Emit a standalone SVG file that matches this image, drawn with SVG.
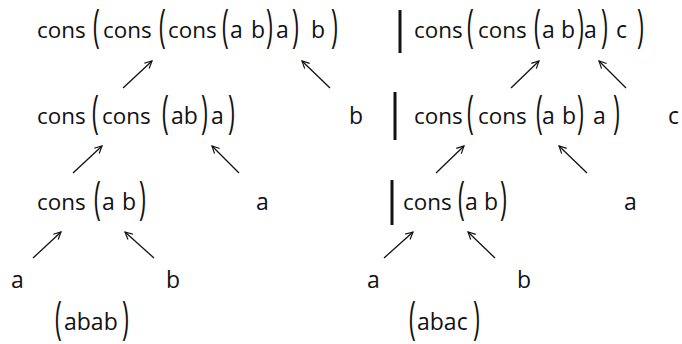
<svg xmlns="http://www.w3.org/2000/svg" width="682" height="344" viewBox="0 0 682 344">
<style>
.t{font-family:"Open Sans","Noto Sans","Liberation Sans",sans-serif;font-size:23px;fill:#111}
.w{font-size:22.4px}
.bar{stroke:#111;stroke-width:3}
.c line{stroke:#111;stroke-width:1.3;marker-end:url(#ah)}
</style>
<defs>
<marker id="ah" viewBox="0 0 10 10" refX="9" refY="5" markerWidth="9" markerHeight="9" markerUnits="userSpaceOnUse" orient="auto">
<path d="M1,1 L9,5 L1,9" fill="none" stroke="#111" stroke-width="1.3"/>
</marker>
</defs>
<rect width="682" height="344" fill="#fff"/>

<g id="L1">
<text class="t w" x="37" y="38">cons</text>
<text class="t" transform="translate(93,42) scale(1,1.96)">(</text>
<text class="t w" x="103" y="38">cons</text>
<text class="t" transform="translate(159,42) scale(1,1.96)">(</text>
<text class="t w" x="168" y="38">cons</text>
<text class="t" transform="translate(222,42) scale(1,1.96)">(</text>
<text class="t" x="230" y="38">a</text>
<text class="t" x="251" y="38">b</text>
<text class="t" transform="translate(266,42) scale(1,1.96)">)</text>
<text class="t" x="276" y="38">a</text>
<text class="t" transform="translate(292,42) scale(1,1.96)">)</text>
<text class="t" x="311" y="38">b</text>
<text class="t" transform="translate(331,42) scale(1,1.96)">)</text>
</g>

<g id="R1">
<line class="bar" x1="400" y1="10" x2="400" y2="53"/>
<text class="t w" x="414" y="38">cons</text>
<text class="t" transform="translate(467,42) scale(1,1.96)">(</text>
<text class="t w" x="478" y="38">cons</text>
<text class="t" transform="translate(534,42) scale(1,1.96)">(</text>
<text class="t" x="542" y="38">a</text>
<text class="t" x="561" y="38">b</text>
<text class="t" transform="translate(577,42) scale(1,1.96)">)</text>
<text class="t" x="584" y="38">a</text>
<text class="t" transform="translate(601,42) scale(1,1.96)">)</text>
<text class="t" x="616" y="38">c</text>
<text class="t" transform="translate(637,42) scale(1,1.96)">)</text>
</g>

<g id="L2">
<text class="t w" x="37" y="124">cons</text>
<text class="t" transform="translate(92,128) scale(1,1.96)">(</text>
<text class="t w" x="102" y="124">cons</text>
<text class="t" transform="translate(162,128) scale(1,1.96)">(</text>
<text class="t" x="171" y="124">ab</text>
<text class="t" transform="translate(201,128) scale(1,1.96)">)</text>
<text class="t" x="211" y="124">a</text>
<text class="t" transform="translate(228,128) scale(1,1.96)">)</text>
</g>
<g id="Lb2"><text class="t" x="349" y="124">b</text></g>

<g id="R2">
<line class="bar" x1="395" y1="92" x2="395" y2="140"/>
<text class="t w" x="414" y="124">cons</text>
<text class="t" transform="translate(467,128) scale(1,1.96)">(</text>
<text class="t w" x="478" y="124">cons</text>
<text class="t" transform="translate(536,128) scale(1,1.96)">(</text>
<text class="t" x="542" y="124">a</text>
<text class="t" x="562" y="124">b</text>
<text class="t" transform="translate(577,128) scale(1,1.96)">)</text>
<text class="t" x="593" y="124">a</text>
<text class="t" transform="translate(613,128) scale(1,1.96)">)</text>
</g>
<g id="Rc2"><text class="t" x="668" y="124">c</text></g>

<g id="L3">
<text class="t w" x="37" y="210">cons</text>
<text class="t" transform="translate(94,214) scale(1,1.96)">(</text>
<text class="t" x="102" y="210">a</text>
<text class="t" x="122" y="210">b</text>
<text class="t" transform="translate(139,214) scale(1,1.96)">)</text>
</g>
<g id="La3"><text class="t" x="256" y="210">a</text></g>

<g id="R3">
<line class="bar" x1="392" y1="180" x2="392" y2="225"/>
<text class="t w" x="403" y="210">cons</text>
<text class="t" transform="translate(458,214) scale(1,1.96)">(</text>
<text class="t" x="465" y="210">a</text>
<text class="t" x="484" y="210">b</text>
<text class="t" transform="translate(500,214) scale(1,1.96)">)</text>
</g>
<g id="Ra3"><text class="t" x="624" y="210">a</text></g>

<g id="La4"><text class="t" x="11" y="288">a</text></g>
<g id="Lb4"><text class="t" x="166" y="288">b</text></g>
<g id="Ra4"><text class="t" x="367" y="288">a</text></g>
<g id="Rb4"><text class="t" x="517" y="288">b</text></g>

<g id="L5">
<text class="t" transform="translate(55,334) scale(1,1.96)">(</text>
<text class="t" x="64" y="330">abab</text>
<text class="t" transform="translate(122,334) scale(1,1.96)">)</text>
</g>
<g id="R5">
<text class="t" transform="translate(409,334) scale(1,1.96)">(</text>
<text class="t" x="417" y="330">abac</text>
<text class="t" transform="translate(473,334) scale(1,1.96)">)</text>
</g>

<g id="connectors" class="c">
<line x1="123" y1="88" x2="152" y2="61"/>
<line x1="330" y1="88" x2="302" y2="61"/>
<line x1="511" y1="88" x2="539" y2="61"/>
<line x1="626" y1="88" x2="599" y2="61"/>
<line x1="73" y1="173" x2="102" y2="146"/>
<line x1="239" y1="173" x2="212" y2="146"/>
<line x1="436" y1="173" x2="464" y2="146"/>
<line x1="587" y1="173" x2="559" y2="146"/>
<line x1="33" y1="258" x2="61" y2="232"/>
<line x1="154" y1="258" x2="125" y2="232"/>
<line x1="384" y1="258" x2="413" y2="232"/>
<line x1="495" y1="258" x2="468" y2="232"/>
</g>
</svg>
